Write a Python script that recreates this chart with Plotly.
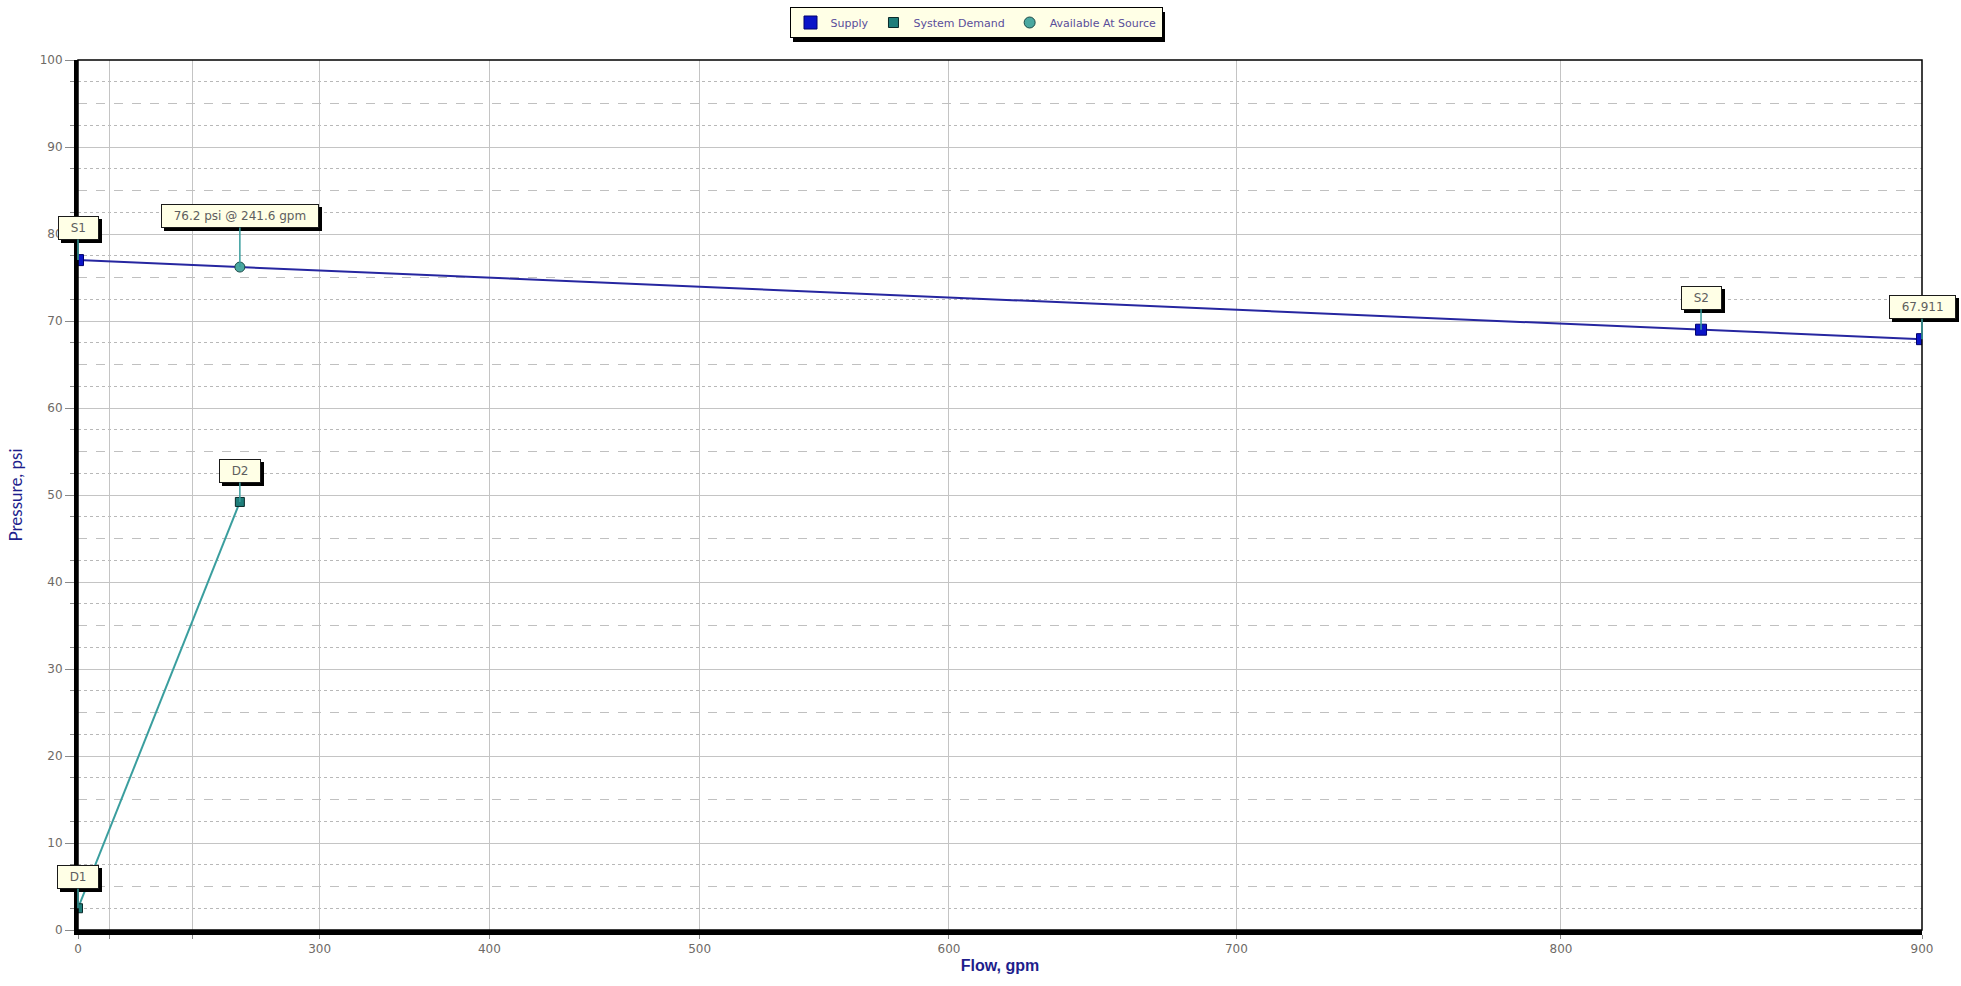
import numpy as np
import plotly.graph_objects as go

# Hydraulic graph: flow axis is plotted on N^1.85 paper
FLOW_EXP = 1.85
Q_MAX = 900

supply_flow = [0, 840, 900]
supply_psi = [77.0, 69.0, 67.911]
supply_labels = ["S1", "S2", "67.911"]

demand_flow = [0, 241.6]
demand_psi = [2.5, 49.2]
demand_labels = ["D1", "D2"]

source_flow = [241.6]
source_psi = [76.2]

flow_grid = [0, 100, 200, 300, 400, 500, 600, 700, 800, 900]
flow_ticktext = ["0", "", "", "300", "400", "500", "600", "700", "800", "900"]
pressure_major = list(range(0, 101, 10))
pressure_half = [5 + 10 * i for i in range(10)]
pressure_quarter = [2.5 + 5 * i for i in range(20)]


def n185(q):
    """Map flow (gpm) onto the N^1.85 axis, scaled to keep 0..Q_MAX."""
    q = np.asarray(q, dtype=float)
    return Q_MAX * (q / Q_MAX) ** FLOW_EXP


SUPPLY_LINE = "#2626a0"
SUPPLY_MARK = "#0a14c8"
DEMAND_LINE = "#3a9e9e"
DEMAND_MARK = "#1f7e7a"
SOURCE_MARK = "#4aa8a0"
LEADER = "#3a9e9e"
TITLE_BLUE = "#1e1e8c"
TICK_GRAY = "#6e6a66"
FONT = "DejaVu Sans"

fig = go.Figure()

fig.add_trace(go.Scatter(
    x=n185(supply_flow), y=supply_psi, mode="lines+markers",
    line=dict(color=SUPPLY_LINE, width=2),
    marker=dict(symbol="square", size=11, color=SUPPLY_MARK,
                line=dict(color="#00006e", width=1)),
    showlegend=False, hoverinfo="skip"))

fig.add_trace(go.Scatter(
    x=n185(demand_flow), y=demand_psi, mode="lines+markers",
    line=dict(color=DEMAND_LINE, width=2),
    marker=dict(symbol="square", size=9, color=DEMAND_MARK,
                line=dict(color="#0a2a2a", width=1)),
    showlegend=False, hoverinfo="skip"))

fig.add_trace(go.Scatter(
    x=n185(source_flow), y=source_psi, mode="markers",
    marker=dict(symbol="circle", size=10, color=SOURCE_MARK,
                line=dict(color="#1c4a48", width=1)),
    showlegend=False, hoverinfo="skip"))

# Legend entries (marker swatches only)
for name, sym, col, edge, sz in [
    ("Supply", "square", SUPPLY_MARK, "#00006e", 13),
    ("System Demand", "square", DEMAND_MARK, "#0a2a2a", 10),
    ("Available At Source", "circle", SOURCE_MARK, "#1c4a48", 11),
]:
    fig.add_trace(go.Scatter(
        x=[None], y=[None], mode="markers", name=name,
        marker=dict(symbol=sym, size=sz, color=col, line=dict(color=edge, width=1))))

# Carrier for the dashed half-decade pressure grid
fig.add_trace(go.Scatter(x=[None], y=[None], yaxis="y2", showlegend=False,
                         hoverinfo="skip"))

# Callout boxes with drop shadows
callouts = []
for q, p, t in zip(supply_flow, supply_psi, supply_labels):
    callouts.append((q, p, t, -32))
for q, p, t in zip(demand_flow, demand_psi, demand_labels):
    callouts.append((q, p, t, -31))
for q, p in zip(source_flow, source_psi):
    callouts.append((q, p, f"{p:.1f} psi @ {q:.1f} gpm", -51))

PAD = "&nbsp;&nbsp;"
annotations = []
for q, p, t, ay in callouts:
    base = dict(x=float(n185(q)), y=p, xref="x", yref="y", text=PAD + t + PAD,
                showarrow=True, arrowhead=0, ax=0, ay=ay, borderpad=4,
                borderwidth=1)
    shadow = dict(base, bgcolor="#000000", bordercolor="#000000",
                  font=dict(family=FONT, size=12, color="#000000"),
                  arrowcolor="rgba(0,0,0,0)", xshift=3, yshift=-3)
    main = dict(base, bgcolor="#ffffe6", bordercolor="#1a1a1a",
                font=dict(family=FONT, size=12, color="#5e5e5e"),
                arrowcolor=LEADER, arrowwidth=1.5)
    annotations.append(shadow)
    annotations.append(main)

W, H = 1961, 986
ML, MR, MT, MB = 78, 39, 60, 56
pw, ph = W - ML - MR, H - MT - MB


def px_x(v):
    return (v - ML) / pw


def px_y(v):
    return (H - MB - v) / ph


shapes = [
    # legend drop shadow
    dict(type="rect", xref="paper", yref="paper",
         x0=px_x(793), x1=px_x(1165), y0=px_y(42), y1=px_y(12),
         fillcolor="#000000", line=dict(width=0), layer="above"),
    # plot frame
    dict(type="rect", xref="paper", yref="paper", x0=0, x1=1, y0=0, y1=1,
         line=dict(color="#000000", width=1.5), layer="above"),
]

fig.update_layout(
    width=W, height=H,
    margin=dict(l=ML, r=MR, t=MT, b=MB, autoexpand=False),
    paper_bgcolor="#ffffff", plot_bgcolor="#ffffff",
    font=dict(family=FONT, size=12, color=TICK_GRAY),
    showlegend=True,
    legend=dict(orientation="h", x=px_x(976), xanchor="center",
                y=px_y(7), yanchor="top",
                bgcolor="#ffffe6", bordercolor="#000000", borderwidth=1,
                font=dict(family=FONT, size=11, color="#5a4e9a"),
                itemwidth=30, tracegroupgap=0),
    xaxis=dict(
        range=[0, Q_MAX], tickmode="array",
        tickvals=n185(flow_grid).tolist(), ticktext=flow_ticktext,
        showgrid=True, gridcolor="#c4c4c4", gridwidth=1,
        showline=True, linecolor="#000000", linewidth=5, mirror=False,
        ticks="outside", ticklen=4, tickcolor="#8a8a8a",
        tickfont=dict(family=FONT, size=12, color=TICK_GRAY),
        zeroline=False,
        title=dict(text="<b>Flow, gpm</b>", standoff=6,
                   font=dict(family="Liberation Sans", size=16, color=TITLE_BLUE)),
    ),
    yaxis=dict(
        range=[0, 100], tickmode="array", tickvals=pressure_major,
        showgrid=True, gridcolor="#c4c4c4", gridwidth=1,
        showline=True, linecolor="#000000", linewidth=4, mirror=False,
        ticks="outside", ticklen=9, tickcolor="#8a8a8a",
        tickfont=dict(family=FONT, size=12, color=TICK_GRAY),
        zeroline=False,
        minor=dict(tickmode="array", tickvals=pressure_quarter,
                   ticks="outside", ticklen=4, tickcolor="#8a8a8a",
                   showgrid=True, gridcolor="#b8b8b8", griddash="dot",
                   gridwidth=1),
        title=dict(text="Pressure, psi", standoff=14,
                   font=dict(family="Lato", size=17, color=TITLE_BLUE)),
    ),
    yaxis2=dict(
        range=[0, 100], overlaying="y", side="left", anchor="x",
        tickmode="array", tickvals=pressure_half,
        showgrid=True, gridcolor="#c0c0c0", griddash="dash", gridwidth=1,
        showticklabels=False, ticks="", showline=False, zeroline=False,
    ),
    annotations=annotations,
    shapes=shapes,
)

fig.write_html("out.html")
